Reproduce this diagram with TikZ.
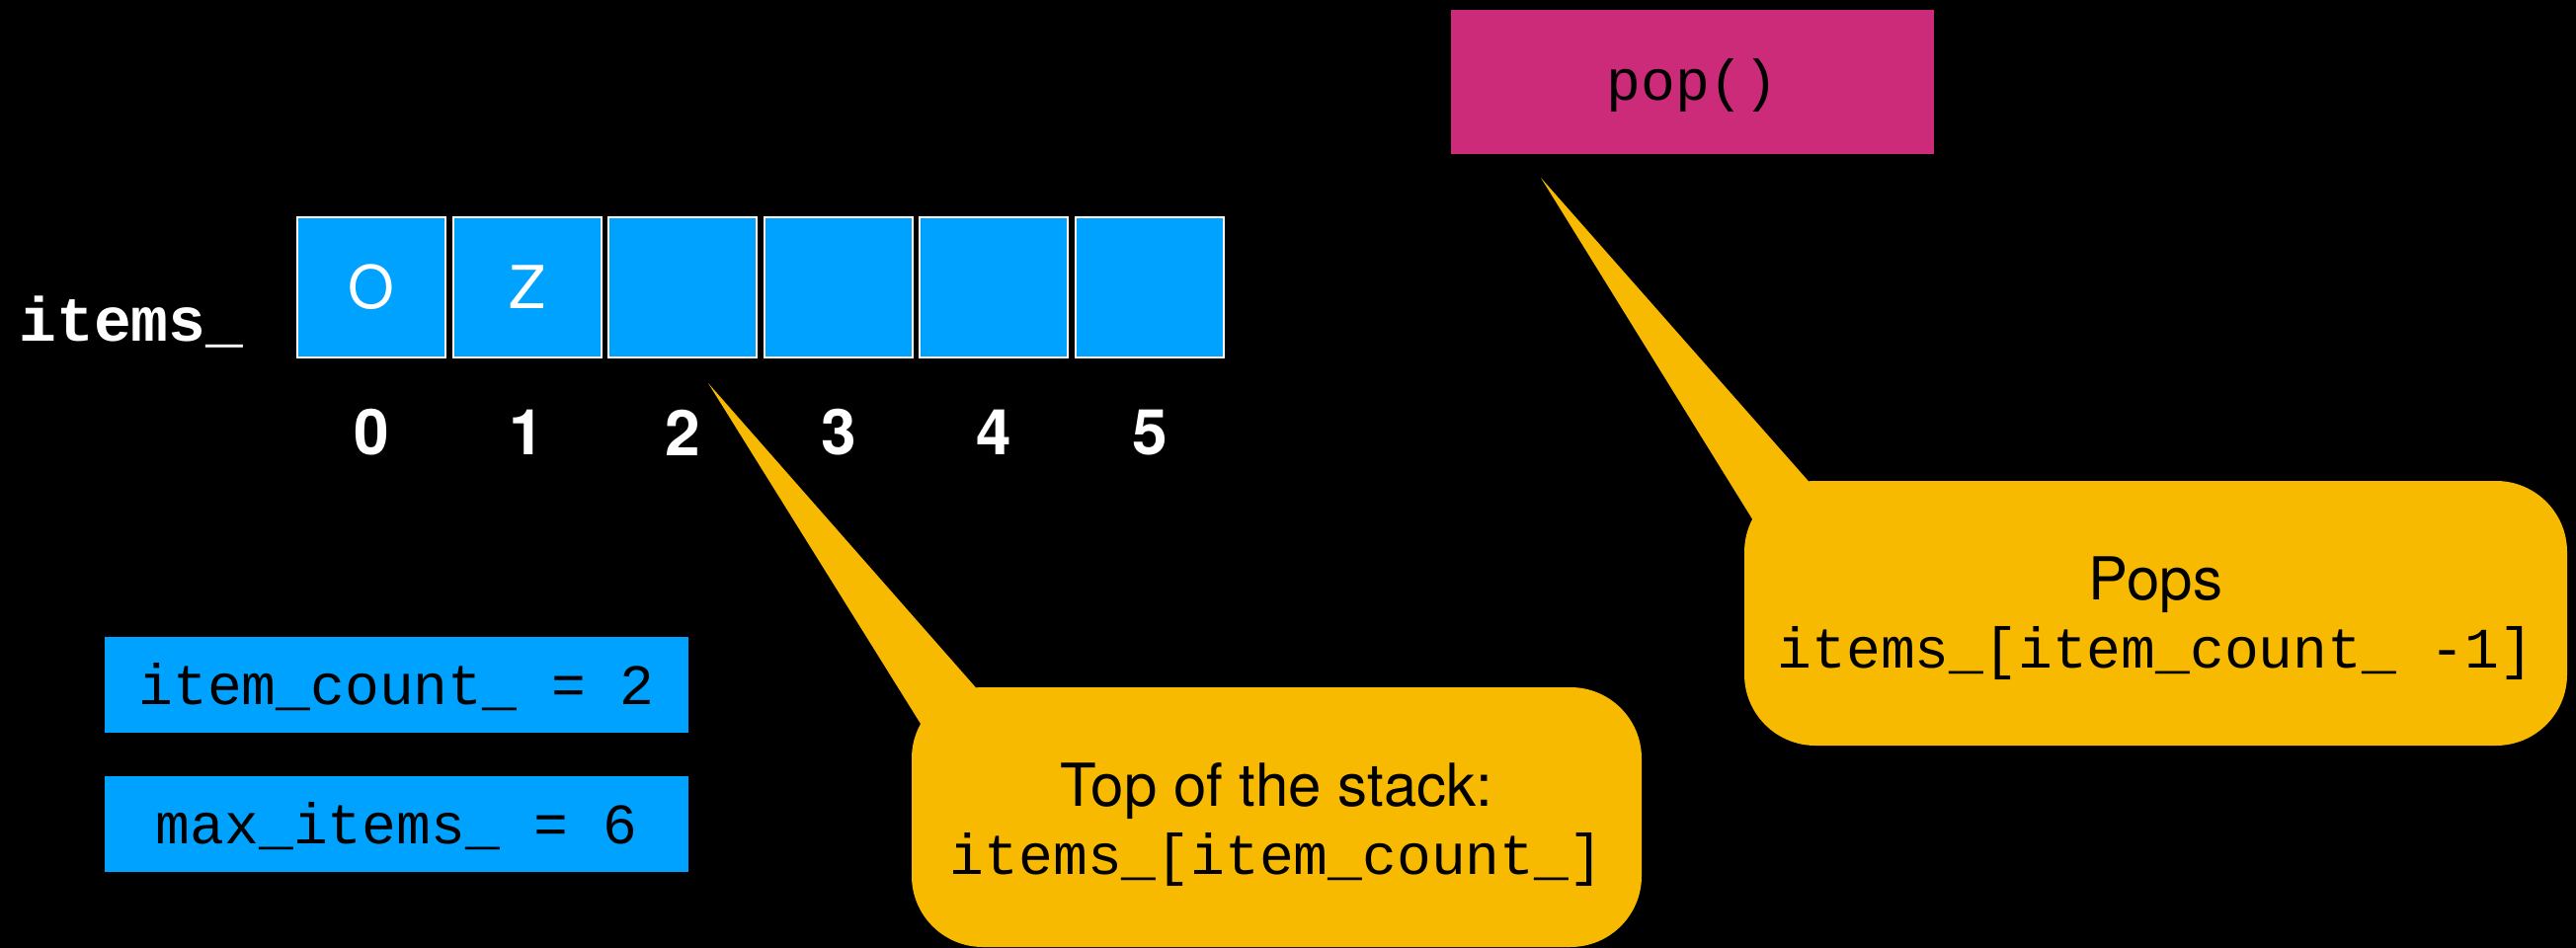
\documentclass[tikz,border=0pt]{standalone}
\usepackage{fontspec}
\setmainfont{TeX Gyre Heros}
\setsansfont{TeX Gyre Heros}
\setmonofont{Liberation Mono}
\definecolor{cellblue}{HTML}{00A2FF}
\definecolor{popmag}{HTML}{CC2B7A}
\definecolor{calloutyellow}{HTML}{F8BA00}
\begin{document}
\begin{tikzpicture}[x=1pt,y=-1pt,
  cell/.style={draw=white,line width=2pt,fill=cellblue,minimum width=150pt,minimum height=141pt,inner sep=0pt,text=white,font=\fontsize{60}{72}\selectfont},
  idx/.style={text=white,inner sep=0pt,font=\fontsize{64}{76}\selectfont\bfseries},
  varbox/.style={fill=cellblue,minimum width=591pt,minimum height=97pt,inner sep=0pt,text=black,font=\fontsize{58}{70}\selectfont\ttfamily,text height=40pt,text depth=0pt},
  methodbox/.style={fill=popmag,minimum width=489pt,minimum height=146pt,inner sep=0pt,text=black,font=\fontsize{58}{70}\selectfont\ttfamily,text height=38pt,text depth=0pt},
  callout/.style={fill=calloutyellow,rounded corners=72pt,inner sep=0pt,align=center,text=black},
  tail/.style={fill=calloutyellow}
]
\useasboundingbox (0,0) rectangle (2608,960);
\fill[black] (0,0) rectangle (2608,960);

% array label
\node[text=white,inner sep=0pt,anchor=base,font=\fontsize{63}{75}\selectfont\ttfamily\bfseries] (itemslabel) at (133,345) {items\_};

% array cells
\foreach \i/\t in {0/O,1/Z,2/,3/,4/,5/} {
  \node[cell] (cell\i) at ({376+157.6*\i},291) {\t};
  \node[idx] (idx\i) at ({376+157.6*\i},438) {\i};
}

% variables
\node[varbox] (count) at (401.5,693.5) {item\_count\_ = 2};
\node[varbox] (maxitems) at (401.5,834.5) {max\_items\_ = 6};

% pop()
\node[methodbox] (pop) at (1713.5,83) {pop()};

% callout tails
\coordinate (toptip) at (717,388);
\coordinate (topbaseA) at (957,773);
\coordinate (topbaseB) at (1029,743);
\fill[tail] (toptip) -- (topbaseA) -- (topbaseB) -- cycle;

\coordinate (poptip) at (1560,180);
\coordinate (popbaseA) at (1804,574);
\coordinate (popbaseB) at (1873,535);
\fill[tail] (poptip) -- (popbaseA) -- (popbaseB) -- cycle;

% callout bodies
\node[callout,minimum width=739pt,minimum height=263pt,font=\fontsize{58}{68.5}\selectfont] (topcallout) at (1292.5,827.5)
  {\rule{0pt}{61.5pt}{\fontsize{60}{68.5}\selectfont Top of the stack:}\\\rule[-15pt]{0pt}{15pt}{\ttfamily items\_[item\_count\_]}};
\node[callout,minimum width=833pt,minimum height=268pt,font=\fontsize{58}{69}\selectfont] (popcallout) at (2182.5,621)
  {\rule{0pt}{56pt}{\fontsize{60}{69}\selectfont Pops}\\\rule[-15pt]{0pt}{15pt}{\ttfamily items\_[item\_count\_ -1]}};
\end{tikzpicture}
\end{document}
